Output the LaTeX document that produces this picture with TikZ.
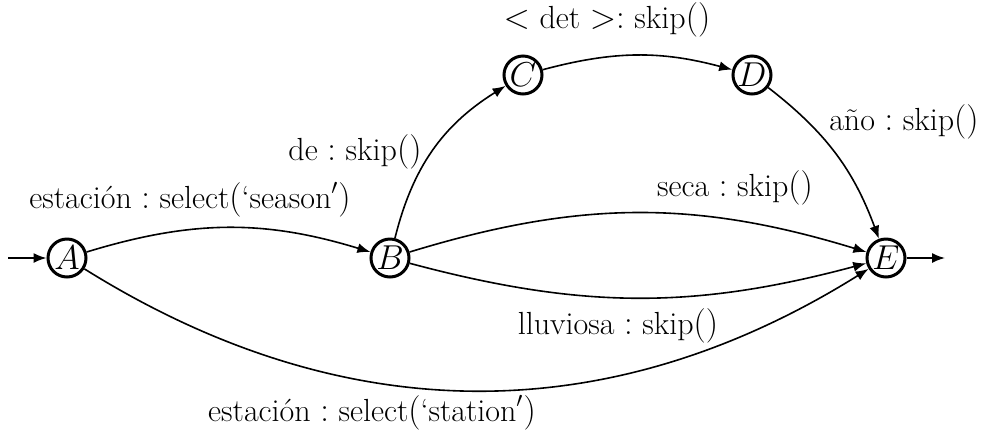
\documentclass[tikz,border=0pt]{standalone}
\usetikzlibrary{arrows.meta}
\begin{document}
\begin{tikzpicture}[x=0.5pt,y=-0.5pt,
  st/.style={circle,draw,line width=1.5pt,minimum size=19pt,inner sep=0pt,font=\fontsize{16}{19}\selectfont},
  tr/.style={line width=0.8pt,-{Latex[length=6.5pt,width=5pt]}},
  lbl/.style={font=\fontsize{16}{19}\selectfont,inner sep=0pt}]
\useasboundingbox (0,0) rectangle (981,435);
\node[st] (A) at (67,258) {$A$};
\node[st] (B) at (390,258) {$B$};
\node[st] (C) at (523,75) {$C$};
\node[st] (D) at (752,75) {$D$};
\node[st] (E) at (886,258) {$E$};
\coordinate (in) at (8,258);
\coordinate (out) at (945,258);
\draw[tr] (in) -- (A);
\draw[tr] (E) -- (out);
\draw[tr] (A) to[bend left=17] (B);
\draw[tr] (A) to[bend right=32] (E);
\draw[tr] (B) to[bend left=17] (E);
\draw[tr] (B) to[bend right=15] (E);
\draw[tr] (B) to[bend left=22] (C);
\draw[tr] (C) to[bend left=15] (D);
\draw[tr] (D) to[bend left=16] (E);
\node[lbl] (l1) at (190,200) {$\mbox{estación}:\mbox{select}(\mbox{`season}')$};
\node[lbl] (l2) at (355,152) {$\mbox{de}:\mbox{skip}()$};
\node[lbl] (l3) at (607,20) {$<\mbox{det}>:\mbox{skip}()$};
\node[lbl] (l4) at (904,122) {$\mbox{año}:\mbox{skip}()$};
\node[lbl] (l5) at (735,188) {$\mbox{seca}:\mbox{skip}()$};
\node[lbl] (l6) at (618,326) {$\mbox{lluviosa}:\mbox{skip}()$};
\node[lbl] (l7) at (372,413) {$\mbox{estación}:\mbox{select}(\mbox{`station}')$};
\end{tikzpicture}
\end{document}
